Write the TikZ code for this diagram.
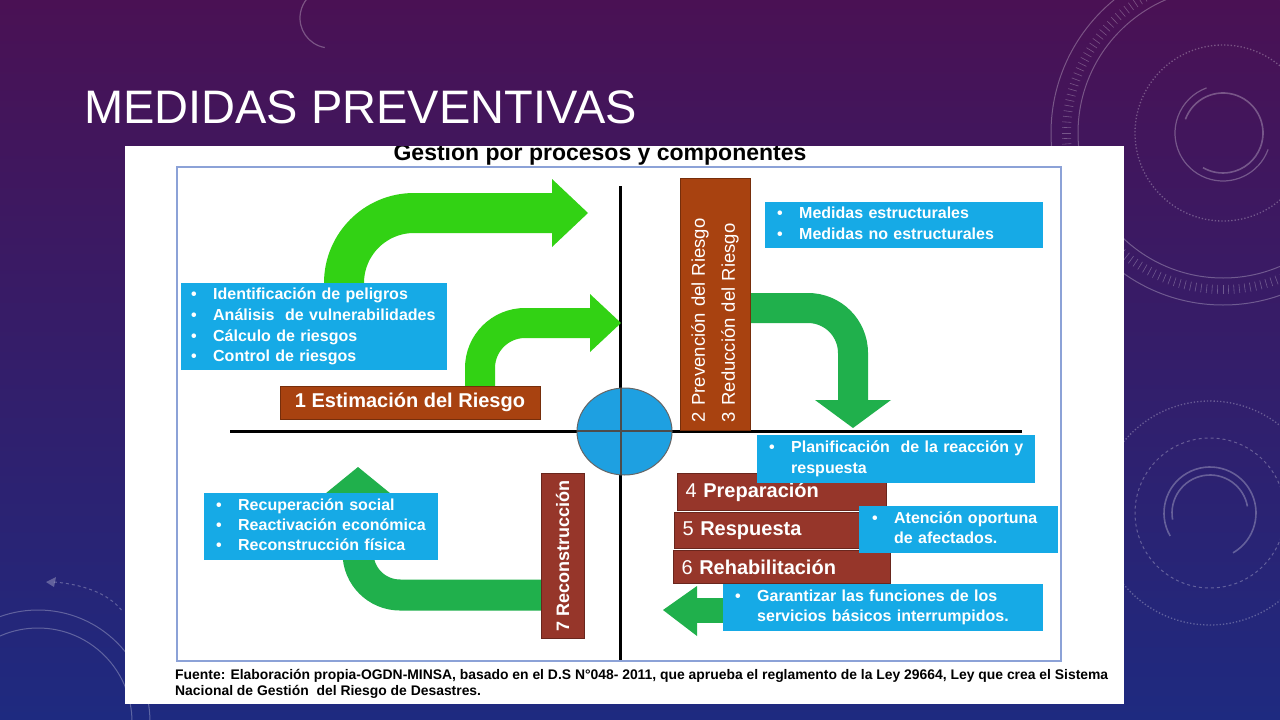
\documentclass[tikz,border=0pt]{standalone}
\usepackage{fontspec}
\setmainfont{Liberation Sans}
\usetikzlibrary{calc}
\definecolor{bgtop}{RGB}{74,17,84}
\definecolor{bgbot}{RGB}{30,42,128}
\definecolor{frameblue}{RGB}{140,162,215}
\definecolor{boxblue}{RGB}{22,170,230}
\definecolor{brownA}{RGB}{168,66,16}
\definecolor{brownB}{RGB}{150,54,42}
\definecolor{greenA}{RGB}{50,210,20}
\definecolor{greenB}{RGB}{32,176,76}
\definecolor{circblue}{RGB}{30,160,225}
\newcommand\blist[1]{\noindent\begin{tabular}{@{}p{22pt}@{}l@{}}#1\end{tabular}}
\tikzset{
  bbox/.style={fill=boxblue, text=white, anchor=north west, align=left, inner xsep=12, inner ysep=0,
    font=\bfseries\fontsize{16}{21}\selectfont},
  brownbox/.style={fill=brownA, draw=brownA!70!black, line width=1, text=white},
  redbox/.style={fill=brownB, draw=brownB!70!black, line width=1, text=white, anchor=north west,
    align=left, inner xsep=8, font=\fontsize{20}{20}\selectfont},
  deco/.style={white, opacity=0.28, line width=1},
  axis/.style={black, line width=3},
}
\begin{document}
\begin{tikzpicture}[x=1pt,y=-1pt]
\useasboundingbox (0,0) rectangle (1280,720);
\shade[top color=bgtop, bottom color=bgbot] (0,0) rectangle (1280,720);
% background decorations
\begin{scope}[deco]
  \draw (1223,133) circle[radius=145];
  \draw (1223,133) circle[radius=172];
  \draw[dotted, line width=1.3] (1223,133) circle[radius=88];
  \draw[line width=1.6] (1223,133) ++(200:40) arc[start angle=200, end angle=480, radius=40];
  \draw[line width=1.2] (1223,133) ++(20:48) arc[start angle=20, end angle=250, radius=48];
  \foreach \a in {0,2,...,358} \draw[line width=0.6] ($(1223,133)+(\a:152)$) -- ($(1223,133)+(\a:161)$);
  \draw[line width=1.2] (330,18) ++(100:30) arc[start angle=100, end angle=290, radius=30];
  \draw[line width=1.6] (1210,513) ++(150:46) arc[start angle=150, end angle=420, radius=46];
  \draw[line width=1.6] (1210,513) ++(170:38) arc[start angle=170, end angle=350, radius=38];
  \draw[dashed] (1210,513) circle[radius=75];
  \draw[dotted, line width=1.3] (1210,513) circle[radius=112];
  \draw (38,722) circle[radius=112];
  \draw (38,722) circle[radius=94];
  \draw[dashed] (54,582) .. controls (90,585) and (112,597) .. (123,612);
  \fill (46,582) -- (56,577) -- (54,587) -- cycle;
\end{scope}
% title
\node[anchor=base west, inner sep=0, text=white, font=\fontsize{47}{47}\selectfont] (title) at (84,123) {MEDIDAS PREVENTIVAS};
% white panel and frame
\fill[white] (125,146) rectangle (1124,704);
\draw[frameblue, line width=1.5] (177,167) rectangle (1061,661);
\begin{scope}
  \clip (125,146) rectangle (1124,704);
  \node[anchor=base, inner sep=0, font=\bfseries\fontsize{23}{23}\selectfont] (gtitle) at (600,160) {Gestion por procesos y componentes};
\end{scope}
% axes
\draw[axis] (620,186) -- (620,660);
\draw[axis] (230,431) -- (1022,431);
\draw[fill=circblue, draw=black!60, line width=1] (624.5,431.5) ellipse[x radius=47.5, y radius=43.5];
\draw[black!70, line width=2] (621,388) -- (621,475);
\draw[black!70, line width=2] (577,431) -- (672,431);
% green arrows
\draw[greenA, line width=40, rounded corners=70] (344,290) |- (553,213);
\fill[greenA] (552,179) -- (588,213) -- (552,247) -- cycle;
\draw[greenA, line width=30, rounded corners=45] (480,390) |- (591,323);
\fill[greenA] (590,294) -- (621,323) -- (590,352) -- cycle;
\draw[greenB, line width=30, rounded corners=45] (745,308) -| (853,401);
\fill[greenB] (815,400) -- (853,428) -- (891,400) -- cycle;
\draw[greenB, line width=31, rounded corners=42] (545,595) -| (358,495);
\fill[greenB] (320,498) -- (358,467) -- (396,498) -- cycle;
\draw[greenB, line width=25] (730,610) -- (696,610);
\fill[greenB] (697,586) -- (663,610) -- (697,636) -- cycle;
% brown boxes
\node[brownbox, minimum width=260, minimum height=33, font=\bfseries\fontsize{20}{20}\selectfont] (est) at (410,402.5) {1 Estimación del Riesgo};
\node[brownbox, rotate=90, minimum width=252, minimum height=70, text width=236, align=left, inner xsep=8,
  font=\fontsize{18.5}{30}\selectfont] (prev) at (715,304) {2 Prevención del Riesgo\\3 Reducción del Riesgo};
\node[brownbox, fill=brownB, draw=brownB!70!black, rotate=90, minimum width=165, minimum height=43,
  font=\bfseries\fontsize{18}{18}\selectfont] (rec) at (562.5,555.5) {7 Reconstrucción};
\node[redbox, text width=193, minimum height=37] (prep) at (677,473) {4 \textbf{Preparación}};
% blue boxes
\node[bbox, inner xsep=10, text width=246, minimum height=87, font=\bfseries\fontsize{16}{20.7}\selectfont] (b1) at (181,283)
  {\blist{• & Identificación de peligros\\ • & Análisis\ \ de vulnerabilidades\\ • & Cálculo de riesgos\\ • & Control de riesgos}};
\node[bbox, text width=254, minimum height=46] (b2) at (765,202)
  {\blist{• & Medidas estructurales\\ • & Medidas no estructurales}};
\node[bbox, text width=254, minimum height=48] (b3) at (757,435)
  {\blist{• & Planificación\ \ de la reacción y\\ & respuesta}};
\node[redbox, text width=180, minimum height=36] (resp) at (674,512) {5 \textbf{Respuesta}};
\node[redbox, text width=201, minimum height=33] (rehab) at (673,550) {6 \textbf{Rehabilitación}};
\node[bbox, inner xsep=13, text width=173, minimum height=47, font=\bfseries\fontsize{16}{19.5}\selectfont] (b4) at (859,506)
  {\blist{• & Atención oportuna\\ & de afectados.}};
\node[bbox, text width=296, minimum height=47, font=\bfseries\fontsize{16}{19.5}\selectfont] (b5) at (723,584)
  {\blist{• & Garantizar las funciones de los\\ & servicios básicos interrumpidos.}};
\node[bbox, text width=210, minimum height=67, font=\bfseries\fontsize{16}{20}\selectfont] (b6) at (204,493)
  {\blist{• & Recuperación social\\ • & Reactivación económica\\ • & Reconstrucción física}};
% source
\node[anchor=north west, align=left, inner sep=0, font=\bfseries\fontsize{13.9}{16}\selectfont] (src) at (175,669.5)
  {Fuente: Elaboración propia-OGDN-MINSA, basado en el D.S N°048- 2011, que aprueba el reglamento de la Ley 29664, Ley que crea el Sistema\\Nacional de Gestión\ \ del Riesgo de Desastres.};
\end{tikzpicture}
\end{document}
